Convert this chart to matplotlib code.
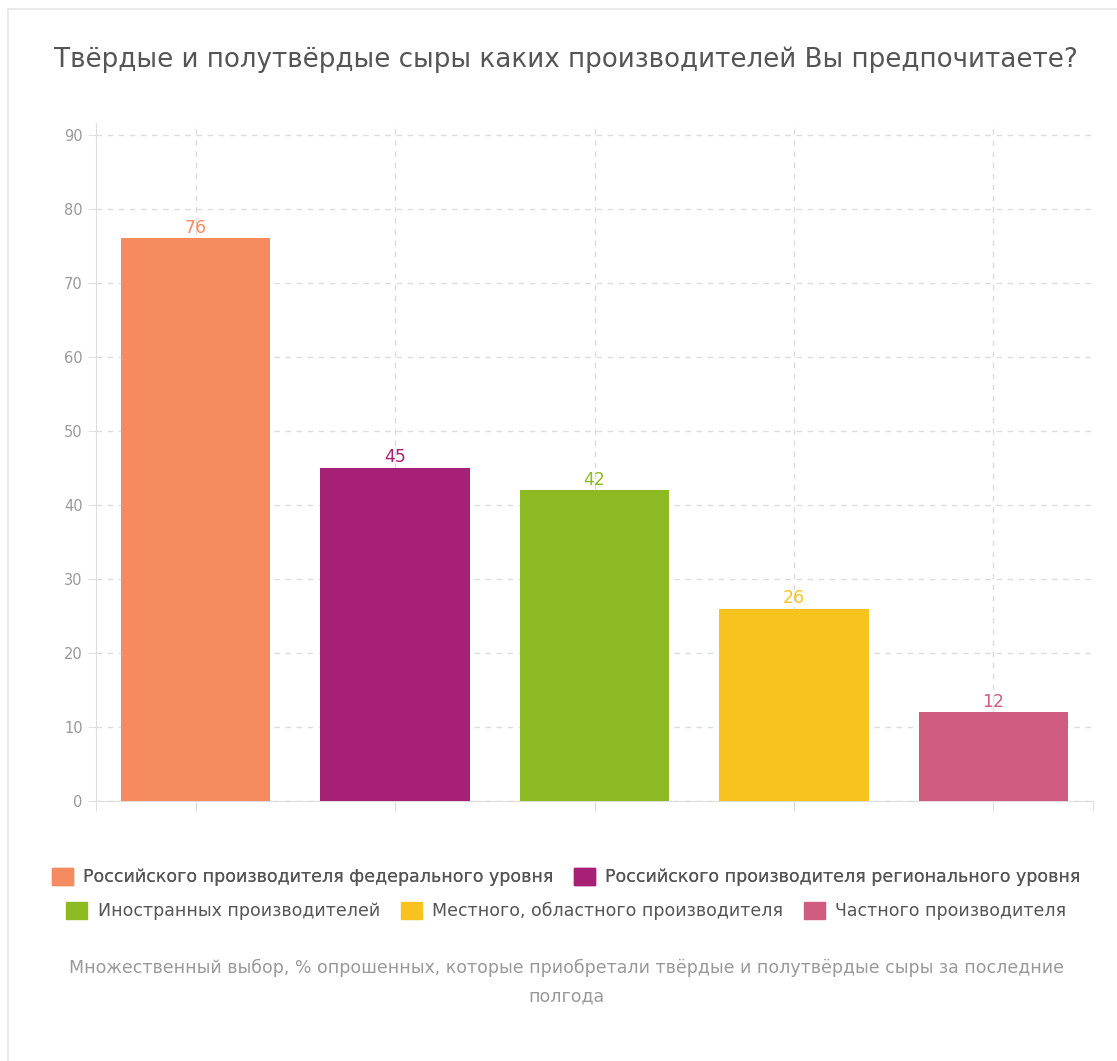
import matplotlib.pyplot as plt
from matplotlib.patches import Patch
from matplotlib.lines import Line2D

plt.rcParams['font.family'] = ['DejaVu Sans']

title = 'Твёрдые и полутвёрдые сыры каких производителей Вы предпочитаете?'
categories = [
    'Российского производителя федерального уровня',
    'Российского производителя регионального уровня',
    'Иностранных производителей',
    'Местного, областного производителя',
    'Частного производителя',
]
values = [76, 45, 42, 26, 12]
colors = ['#F58B5F', '#A62175', '#8DB922', '#F9C31F', '#D05C82']
yticks = [0, 10, 20, 30, 40, 50, 60, 70, 80, 90]
note = ('Множественный выбор, % опрошенных, которые приобретали твёрдые и полутвёрдые сыры за последние\n'
        'полгода')

fig = plt.figure(figsize=(11.17, 10.61), dpi=100)
ax = fig.add_axes([96 / 1117, 1 - 801 / 1061, (1093 - 96) / 1117, (801 - 123) / 1061])

x = list(range(len(values)))
ax.bar(x, values, width=0.75, color=colors, zorder=3)
for xi, v, c in zip(x, values, colors):
    ax.text(xi, v + 0.2, str(v), ha='center', va='bottom', color=c, fontsize=12.5, zorder=4)

ax.set_xlim(-0.5, 4.5)
ax.set_ylim(0, 91.6)
ax.set_yticks(yticks)
ax.set_xticks(x)
ax.set_xticks([-0.5, 4.5], minor=True)
ax.set_xticklabels([])
ax.tick_params(axis='y', colors='#dddddd', labelcolor='#999999', labelsize=10.5, length=6)
ax.tick_params(axis='x', which='both', colors='#dddddd', length=7)
ax.grid(True, color='#dddddd', linestyle=(0, (4, 4)), linewidth=1, zorder=0)
for s in ['top', 'right']:
    ax.spines[s].set_visible(False)
for s in ['left', 'bottom']:
    ax.spines[s].set_color('#dddddd')

fig.text(0.507, 1 - 60 / 1061, title, ha='center', va='center', fontsize=18.8, color='#555555')

handles = [Patch(facecolor=c, edgecolor=c) for c in colors]
leg_kw = dict(frameon=False, fontsize=12.5, labelcolor='#555555', handlelength=1.2,
              handleheight=1.2, handletextpad=0.6, columnspacing=1.2, loc='center')
leg1 = fig.legend(handles[:2], categories[:2], ncol=2,
                  bbox_to_anchor=(0.507, 1 - 877 / 1061), **leg_kw)
fig.add_artist(leg1)
fig.legend(handles[2:], categories[2:], ncol=3,
           bbox_to_anchor=(0.507, 1 - 911 / 1061), **leg_kw)

fig.text(0.507, 1 - 982 / 1061, note, ha='center', va='center', fontsize=12.5,
         color='#999999', linespacing=1.7)

# thin page border
fig.add_artist(Line2D([8 / 1117, 8 / 1117], [0, 1 - 9 / 1061], transform=fig.transFigure,
                      color='#e6e6e6', linewidth=1.2))
fig.add_artist(Line2D([8 / 1117, 1], [1 - 9 / 1061, 1 - 9 / 1061], transform=fig.transFigure,
                      color='#e6e6e6', linewidth=1.2))

fig.savefig('out.png', dpi=100, facecolor='white')
